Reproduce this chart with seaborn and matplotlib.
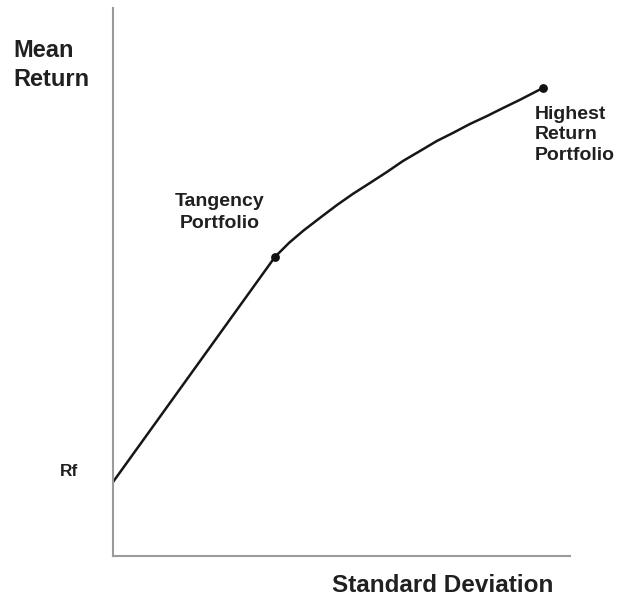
import matplotlib
matplotlib.use("Agg")
import matplotlib.pyplot as plt
import seaborn as sns
import pandas as pd

# Data
sd_curve = [0.0, 7.09, 7.70, 8.32, 9.06, 9.80, 10.50, 11.25, 11.99, 12.69,
            13.44, 14.18, 14.88, 15.62, 16.37, 17.07, 17.81, 18.82]
ret_curve = [3.24, 13.10, 13.71, 14.24, 14.81, 15.37, 15.86, 16.34, 16.82,
             17.30, 17.74, 18.18, 18.53, 18.92, 19.27, 19.62, 19.98, 20.50]
point_names = ["Tangency Portfolio", "Highest Return Portfolio"]
point_sd = [7.09, 18.82]
point_ret = [13.10, 20.50]
x_label = "Standard Deviation"
y_label = "Mean\nReturn"
rf_label = "Rf"

sns.set_theme(style="white")
plt.rcParams["font.family"] = ["Liberation Sans", "DejaVu Sans"]

fig = plt.figure(figsize=(6.24, 5.99), dpi=100)
ax = fig.add_axes([113 / 624, 43 / 599, (570 - 113) / 624, (556 - 8) / 599])

curve = pd.DataFrame({"sd": sd_curve, "ret": ret_curve})
pts = pd.DataFrame({"sd": point_sd, "ret": point_ret, "name": point_names})

sns.lineplot(data=curve, x="sd", y="ret", sort=False, color="#161616",
             linewidth=1.8, ax=ax)
sns.scatterplot(data=pts, x="sd", y="ret", color="#111111", s=40,
                edgecolor="#111111", linewidth=0, ax=ax, zorder=5)

ax.set_xlim(0, 20)
ax.set_ylim(0, 24)
ax.set_xticks([])
ax.set_yticks([])
ax.set_xlabel("")
ax.set_ylabel("")
for side in ["top", "right"]:
    ax.spines[side].set_visible(False)
for side in ["left", "bottom"]:
    ax.spines[side].set_color("#9a9a9a")
    ax.spines[side].set_linewidth(1.5)

txt = dict(fontweight="bold", color="#202020")
fig.text(13 / 624, 1 - 39 / 599, y_label, ha="left", va="top",
         fontsize=17, linespacing=1.35, **txt)
fig.text(332 / 624, 1 - 586 / 599, x_label, ha="left", va="center",
         fontsize=17.5, **txt)
fig.text(60 / 624, 1 - 472 / 599, rf_label, ha="left", va="center",
         fontsize=12.5, **txt)
fig.text(220 / 624, 1 - 193 / 599, "Tangency\nPortfolio", ha="center",
         va="top", fontsize=14, linespacing=1.35, **txt)
fig.text(535 / 624, 1 - 106 / 599, "Highest\nReturn\nPortfolio", ha="left",
         va="top", fontsize=14, linespacing=1.25, **txt)

fig.savefig("out.png", dpi=100)
